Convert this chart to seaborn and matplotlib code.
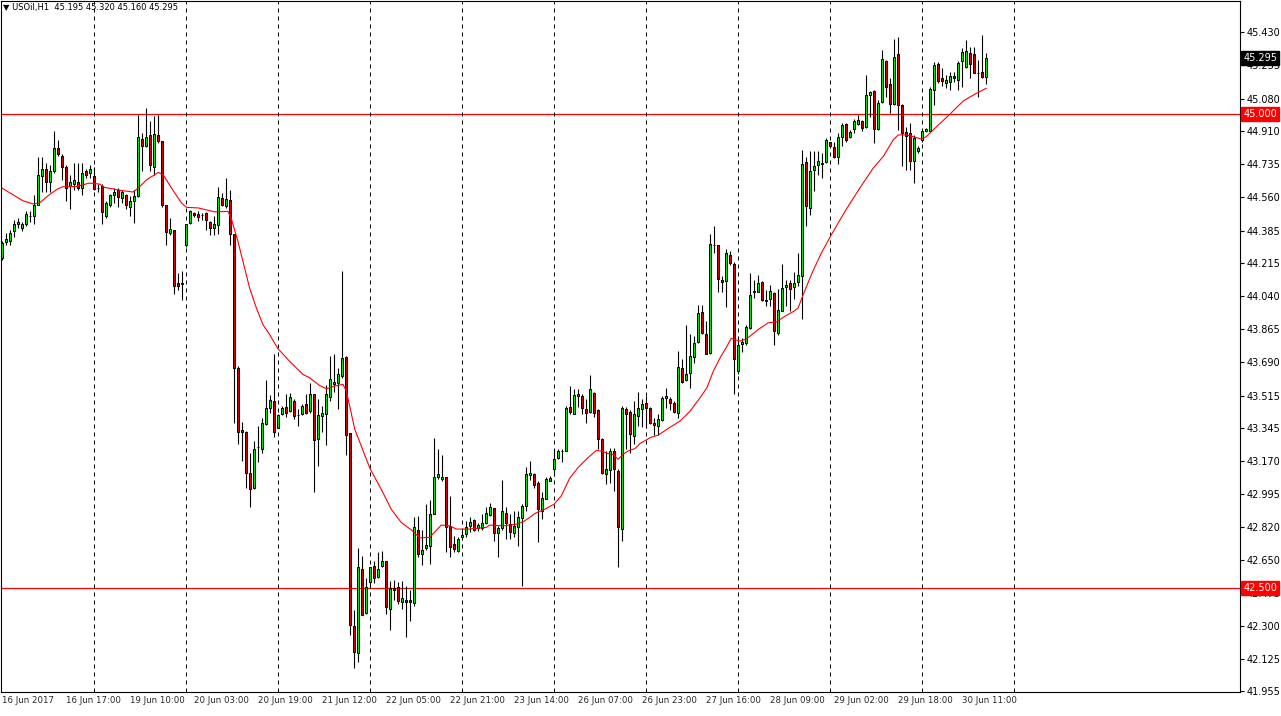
# ==========================================================
# USOil H1 candlestick chart (MT4 style) - seaborn / matplotlib
# ==========================================================
import numpy as np
import pandas as pd
import matplotlib
matplotlib.use("Agg")
import matplotlib.pyplot as plt
import matplotlib.transforms as mtransforms
import seaborn as sns

# ==========================================================
# Data (one value per hourly bar)
# ==========================================================
opens = [
    44.24, 44.325, 44.33, 44.38, 44.42, 44.40, 44.42, 44.46, 44.46, 44.52,
    44.67, 44.71, 44.64, 44.70, 44.82, 44.78, 44.72, 44.62, 44.63, 44.64,
    44.61, 44.70, 44.69, 44.67, 44.61, 44.62, 44.46, 44.52, 44.57, 44.60,
    44.555, 44.57, 44.51, 44.54, 44.565, 44.87, 44.83, 44.89, 44.72, 44.89,
    44.855, 44.52, 44.37, 44.39, 44.11, 44.105, 44.307, 44.425, 44.477, 44.472,
    44.468, 44.477, 44.43, 44.398, 44.414, 44.556, 44.512, 44.547, 44.367, 43.662,
    43.335, 43.325, 43.104, 43.025, 43.244, 43.235, 43.363, 43.451, 43.486, 43.346,
    43.42, 43.456, 43.433, 43.486, 43.412, 43.42, 43.468, 43.433, 43.525, 43.284,
    43.407, 43.42, 43.509, 43.574, 43.583, 43.617, 43.72, 43.316, 42.299, 42.156,
    42.60, 42.367, 42.53, 42.614, 42.556, 42.614, 42.641, 42.39, 42.498, 42.504,
    42.428, 42.438, 42.437, 42.42, 42.807, 42.679, 42.709, 42.72, 42.893, 43.086,
    43.077, 43.088, 42.828, 42.732, 42.696, 42.767, 42.784, 42.828, 42.858, 42.816,
    42.816, 42.842, 42.886, 42.92, 42.788, 42.816, 42.898, 42.837, 42.791, 42.82,
    42.867, 42.93, 43.096, 43.10, 43.056, 42.907, 42.972, 43.065, 43.13, 43.188,
    43.223, 43.223, 43.456, 43.42, 43.512, 43.51, 43.446, 43.43, 43.53, 43.437,
    43.284, 43.10, 43.123, 43.223, 43.117, 42.81, 43.446, 43.43, 43.30, 43.407,
    43.442, 43.474, 43.447, 43.368, 43.354, 43.384, 43.504, 43.495, 43.477, 43.425,
    43.658, 43.596, 43.635, 43.719, 43.796, 43.956, 43.837, 43.737, 44.307, 44.307,
    44.126, 44.121, 44.254, 44.209, 43.644, 43.788, 43.79, 43.872, 44.06, 44.062,
    44.114, 44.016, 44.025, 44.056, 43.846, 43.963, 44.086, 44.109, 44.088, 44.114,
    44.144, 44.746, 44.504, 44.702, 44.728, 44.738, 44.746, 44.851, 44.825, 44.775,
    44.877, 44.946, 44.877, 44.92, 44.946, 44.96, 44.933, 45.10, 45.121, 44.92,
    45.062, 45.279, 45.156, 45.051, 45.314, 45.047, 44.904, 44.898, 44.749, 44.805,
    44.863, 44.911, 44.911, 45.126, 45.262, 45.191, 45.162, 45.17, 45.20, 45.179,
    45.279, 45.249, 45.319, 45.314, 45.214, 45.219, 45.195,
]
highs = [
    44.33, 44.37, 44.39, 44.44, 44.45, 44.43, 44.49, 44.49, 44.57, 44.77,
    44.77, 44.74, 44.73, 44.91, 44.86, 44.79, 44.73, 44.68, 44.74, 44.74,
    44.74, 44.71, 44.73, 44.72, 44.63, 44.63, 44.54, 44.58, 44.61, 44.61,
    44.60, 44.58, 44.565, 44.60, 44.995, 44.90, 45.03, 44.96, 44.99, 44.995,
    44.855, 44.52, 44.45, 44.39, 44.16, 44.174, 44.42, 44.495, 44.48, 44.49,
    44.477, 44.48, 44.433, 44.46, 44.617, 44.583, 44.662, 44.60, 44.367, 43.67,
    43.375, 43.328, 43.214, 43.275, 43.354, 43.398, 43.595, 43.517, 43.735, 43.416,
    43.46, 43.525, 43.53, 43.495, 43.442, 43.472, 43.521, 43.583, 43.525, 43.495,
    43.46, 43.568, 43.723, 43.735, 43.662, 44.174, 43.723, 43.32, 42.384, 42.709,
    42.667, 42.551, 42.609, 42.644, 42.691, 42.693, 42.644, 42.539, 42.544, 42.53,
    42.539, 42.512, 42.491, 42.872, 42.88, 42.805, 42.942, 42.963, 43.293, 43.232,
    43.20, 43.088, 42.986, 42.775, 42.767, 42.802, 42.854, 42.872, 42.863, 42.841,
    42.893, 42.925, 42.951, 42.92, 42.828, 43.069, 42.925, 42.89, 42.904, 42.904,
    42.942, 43.137, 43.17, 43.109, 43.065, 43.004, 43.086, 43.091, 43.232, 43.232,
    43.232, 43.46, 43.565, 43.551, 43.547, 43.521, 43.495, 43.623, 43.535, 43.442,
    43.293, 43.223, 43.241, 43.241, 43.126, 43.46, 43.454, 43.437, 43.486, 43.535,
    43.495, 43.512, 43.454, 43.398, 43.416, 43.512, 43.556, 43.507, 43.486, 43.749,
    43.709, 43.889, 43.837, 43.828, 43.99, 43.99, 43.907, 44.368, 44.407, 44.311,
    44.144, 44.288, 44.279, 44.217, 43.821, 43.82, 43.889, 44.162, 44.126, 44.153,
    44.117, 44.074, 44.10, 44.06, 44.077, 44.209, 44.126, 44.126, 44.167, 44.267,
    44.811, 44.775, 44.802, 44.802, 44.802, 44.793, 44.872, 44.854, 44.854, 44.898,
    44.951, 44.951, 44.916, 44.974, 44.995, 44.968, 45.205, 45.123, 45.126, 45.074,
    45.337, 45.284, 45.188, 45.395, 45.407, 45.051, 44.933, 44.951, 44.889, 44.828,
    44.911, 44.925, 45.144, 45.275, 45.275, 45.24, 45.205, 45.223, 45.223, 45.279,
    45.346, 45.389, 45.354, 45.354, 45.284, 45.416, 45.320,
]
lows = [
    44.23, 44.31, 44.31, 44.35, 44.40, 44.38, 44.41, 44.43, 44.42, 44.52,
    44.59, 44.59, 44.59, 44.69, 44.78, 44.65, 44.54, 44.50, 44.60, 44.60,
    44.57, 44.66, 44.66, 44.60, 44.59, 44.42, 44.45, 44.51, 44.53, 44.51,
    44.53, 44.50, 44.46, 44.425, 44.56, 44.70, 44.825, 44.70, 44.68, 44.846,
    44.51, 44.31, 44.36, 44.05, 44.07, 44.02, 44.30, 44.42, 44.456, 44.433,
    44.442, 44.389, 44.363, 44.363, 44.368, 44.512, 44.504, 44.311, 43.372, 43.262,
    43.17, 43.026, 42.925, 43.021, 43.162, 43.214, 43.36, 43.425, 43.296, 43.346,
    43.412, 43.404, 43.43, 43.393, 43.354, 43.412, 43.42, 43.425, 43.007, 43.144,
    43.323, 43.254, 43.486, 43.533, 43.442, 43.609, 43.20, 42.254, 42.077, 42.112,
    42.358, 42.363, 42.504, 42.526, 42.551, 42.609, 42.363, 42.28, 42.439, 42.416,
    42.39, 42.244, 42.328, 42.407, 42.665, 42.623, 42.70, 42.626, 42.89, 43.074,
    43.062, 42.688, 42.665, 42.688, 42.688, 42.758, 42.767, 42.793, 42.802, 42.802,
    42.805, 42.837, 42.881, 42.749, 42.665, 42.805, 42.758, 42.758, 42.767, 42.723,
    42.512, 42.905, 43.068, 43.03, 42.741, 42.863, 42.968, 43.062, 43.091, 43.179,
    43.167, 43.22, 43.42, 43.416, 43.454, 43.42, 43.372, 43.425, 43.402, 43.232,
    43.10, 43.047, 43.056, 43.012, 42.609, 42.749, 43.235, 43.214, 43.258, 43.354,
    43.349, 43.346, 43.363, 43.307, 43.307, 43.38, 43.451, 43.437, 43.425, 43.395,
    43.583, 43.591, 43.553, 43.688, 43.793, 43.84, 43.732, 43.732, 44.267, 44.062,
    44.062, 43.981, 44.205, 43.521, 43.63, 43.746, 43.784, 43.868, 44.03, 44.06,
    44.012, 43.986, 43.986, 43.781, 43.833, 43.96, 43.986, 43.96, 44.026, 44.091,
    43.916, 44.407, 44.468, 44.595, 44.679, 44.662, 44.74, 44.823, 44.767, 44.735,
    44.828, 44.854, 44.872, 44.898, 44.942, 44.91, 44.928, 44.986, 44.846, 44.916,
    45.056, 45.091, 45.004, 45.047, 44.916, 44.723, 44.705, 44.705, 44.635, 44.793,
    44.854, 44.904, 44.907, 45.047, 45.162, 45.149, 45.135, 45.126, 45.167, 45.126,
    45.144, 45.24, 45.188, 45.214, 45.091, 45.188, 45.160,
]
closes = [
    44.32, 44.34, 44.37, 44.42, 44.43, 44.42, 44.47, 44.46, 44.52, 44.68,
    44.71, 44.64, 44.70, 44.82, 44.79, 44.72, 44.61, 44.64, 44.65, 44.61,
    44.69, 44.68, 44.71, 44.605, 44.61, 44.48, 44.53, 44.57, 44.59, 44.56,
    44.59, 44.52, 44.54, 44.565, 44.88, 44.83, 44.88, 44.73, 44.895, 44.855,
    44.52, 44.375, 44.395, 44.09, 44.09, 44.105, 44.42, 44.49, 44.465, 44.454,
    44.468, 44.442, 44.40, 44.42, 44.56, 44.517, 44.551, 44.367, 43.662, 43.325,
    43.323, 43.104, 43.021, 43.235, 43.244, 43.372, 43.451, 43.493, 43.325, 43.412,
    43.451, 43.425, 43.509, 43.407, 43.412, 43.46, 43.425, 43.521, 43.279, 43.41,
    43.421, 43.521, 43.60, 43.588, 43.626, 43.714, 43.307, 42.307, 42.165, 42.609,
    42.36, 42.504, 42.609, 42.551, 42.60, 42.644, 42.402, 42.498, 42.491, 42.433,
    42.446, 42.428, 42.425, 42.82, 42.679, 42.70, 42.728, 42.893, 43.088, 43.10,
    43.088, 42.823, 42.717, 42.705, 42.758, 42.779, 42.823, 42.846, 42.805, 42.832,
    42.842, 42.898, 42.925, 42.788, 42.816, 42.904, 42.842, 42.798, 42.828, 42.872,
    42.933, 43.10, 43.109, 43.044, 42.916, 42.977, 43.074, 43.078, 43.183, 43.223,
    43.223, 43.451, 43.43, 43.516, 43.521, 43.451, 43.425, 43.547, 43.423, 43.288,
    43.104, 43.126, 43.223, 43.126, 42.82, 43.451, 43.416, 43.314, 43.416, 43.447,
    43.468, 43.451, 43.372, 43.36, 43.389, 43.50, 43.512, 43.477, 43.43, 43.667,
    43.588, 43.626, 43.723, 43.79, 43.951, 43.846, 43.735, 44.314, 44.307, 44.13,
    44.112, 44.267, 44.214, 43.705, 43.784, 43.796, 43.877, 44.044, 44.068, 44.109,
    44.017, 44.016, 44.065, 43.854, 43.967, 44.083, 44.10, 44.079, 44.109, 44.149,
    44.735, 44.512, 44.70, 44.726, 44.753, 44.738, 44.863, 44.828, 44.772, 44.88,
    44.942, 44.86, 44.904, 44.96, 44.968, 44.925, 45.10, 45.114, 44.921, 45.056,
    45.29, 45.144, 45.051, 45.302, 45.047, 44.898, 44.884, 44.754, 44.872, 44.819,
    44.911, 44.92, 45.132, 45.258, 45.175, 45.174, 45.179, 45.20, 45.188, 45.267,
    45.328, 45.333, 45.262, 45.217, 45.214, 45.196, 45.295,
]

# moving average line, read at a set of bar positions
ma_bars = [
    0, 2.75, 5.25, 7.75, 9.4, 11.9, 14, 15.25, 18.6, 21.9, 24.4, 25.75, 29.9,
    32.8, 34.1, 36.2, 39.1, 40.3, 42.4, 44.9, 46.2, 49.1, 53.25, 56.5, 57.3,
    59, 60.25, 61.9, 63.6, 65.25, 66.9, 69, 71.9, 75.25, 76.9, 79.4, 81.1,
    83.2, 85.25, 86.1, 88.2, 92, 94.8, 97.3, 99.8, 102.3, 104.4, 106.9, 109.8,
    111.9, 113.6, 116.9, 121.1, 121.9, 125.25, 128.6, 130.25, 131.9, 133.2,
    135.7, 138, 139.8, 141.9, 144, 146.5, 148.6, 150.25, 151.5, 152.75, 154,
    155.25, 156.5, 158.2, 159.5, 162, 164.1, 166.2, 169.5, 172, 174.5, 176.2,
    177.8, 179.5, 181.2, 182.25, 184.5, 186.1, 189, 191.5, 193.6, 195.7, 198.2,
    199, 200.25, 202.3, 204.8, 207.3, 210.7, 214.4, 217.75, 220.25, 222.75,
    224, 226, 227.75, 229.8, 231, 233.6, 236.9, 240.25, 243.6, 246,
]
ma_vals = [
    44.609, 44.574, 44.542, 44.525, 44.53, 44.574, 44.605, 44.616, 44.617,
    44.635, 44.63, 44.612, 44.596, 44.588, 44.609, 44.653, 44.691, 44.679,
    44.609, 44.53, 44.507, 44.504, 44.483, 44.486, 44.451, 44.328, 44.223,
    44.083, 43.977, 43.889, 43.837, 43.762, 43.696, 43.626, 43.609, 43.568,
    43.551, 43.565, 43.574, 43.538, 43.337, 43.13, 43.021, 42.916, 42.846,
    42.807, 42.765, 42.767, 42.832, 42.828, 42.811, 42.811, 42.82, 42.832,
    42.828, 42.837, 42.849, 42.872, 42.893, 42.916, 42.942, 42.986, 43.079,
    43.135, 43.188, 43.226, 43.22, 43.209, 43.205, 43.179, 43.205, 43.223,
    43.235, 43.262, 43.293, 43.307, 43.337, 43.381, 43.433, 43.504, 43.556,
    43.644, 43.714, 43.775, 43.816, 43.802, 43.814, 43.863, 43.898, 43.904,
    43.933, 43.963, 43.977, 44.047, 44.153, 44.267, 44.363, 44.486, 44.609,
    44.714, 44.775, 44.863, 44.889, 44.889, 44.88, 44.867, 44.88, 44.933,
    44.998, 45.068, 45.109, 45.135,
]

price_ticks = [45.430, 45.255, 45.080, 44.910, 44.735, 44.560, 44.385, 44.215,
               44.040, 43.865, 43.690, 43.515, 43.345, 43.170, 42.995, 42.820,
               42.650, 42.475, 42.300, 42.125, 41.955]
time_labels = ["16 Jun 2017", "16 Jun 17:00", "19 Jun 10:00", "20 Jun 03:00",
               "20 Jun 19:00", "21 Jun 12:00", "22 Jun 05:00", "22 Jun 21:00",
               "23 Jun 14:00", "26 Jun 07:00", "26 Jun 23:00", "27 Jun 16:00",
               "28 Jun 09:00", "29 Jun 02:00", "29 Jun 18:00", "30 Jun 11:00"]
label_bars = [16 * i for i in range(len(time_labels))]
day_bars = [23 * i for i in range(1, 12)]
levels = [45.000, 42.500]

df = pd.DataFrame({"open": opens, "high": highs, "low": lows, "close": closes})
df["bar"] = np.arange(len(df))

# ==========================================================
# Style
# ==========================================================
sns.set_style("white")
plt.rcParams["font.family"] = ["DejaVu Sans"]

fig = plt.figure(figsize=(12.81, 7.16), dpi=100)
ax = fig.add_axes([0.5 / 1281, 24 / 716, 1239.5 / 1281, 691 / 716])

# ==========================================================
# Candles
# ==========================================================
body_low = df[["open", "close"]].min(axis=1)
body_h = (df["close"] - df["open"]).abs().clip(lower=0.0008)
body_col = np.where(df["close"] >= df["open"], "#00e600", "#d40000")

ax.vlines(df["bar"], df["low"], df["high"], color="black", linewidth=0.8, zorder=2)
ax.bar(df["bar"], body_h, bottom=body_low, width=0.55, color=body_col,
       edgecolor="black", linewidth=0.7, zorder=3)

# moving average
sns.lineplot(x=ma_bars, y=ma_vals, ax=ax, color="red", linewidth=0.8,
             sort=False, legend=False, zorder=4)

# horizontal levels and day separators
for lv in levels:
    ax.axhline(lv, color="red", linewidth=0.9, zorder=1)
for d in day_bars:
    ax.axvline(d, color="black", linewidth=0.72, linestyle=(0, (4, 4)), zorder=1)

# ==========================================================
# Axes
# ==========================================================
ax.set_xlim(-0.33, 309.4)
ax.set_ylim(41.952, 45.595)
ax.set_xlabel("")
ax.set_ylabel("")

ax.yaxis.tick_right()
ax.set_yticks(price_ticks)
ax.set_yticklabels([f"{v:.3f}" for v in price_ticks])
ax.tick_params(axis="y", direction="out", length=3, width=0.8, pad=1.5,
               labelsize=7, colors="black")

ax.set_xticks(label_bars)
ax.set_xticklabels(time_labels)
for t in ax.get_xticklabels():
    t.set_ha("left")
ax.set_xticks(day_bars, minor=True)
ax.tick_params(axis="x", which="major", length=0, pad=3, labelsize=6.2)
ax.tick_params(axis="x", which="minor", direction="out", length=3, width=0.8)

for s in ax.spines.values():
    s.set_color("black")
    s.set_linewidth(0.8)

# price boxes on the right scale
trans = mtransforms.blended_transform_factory(ax.transAxes, ax.transData)
for lv in levels:
    ax.text(1.0025, lv, f"{lv:.3f}", transform=trans, ha="left", va="center",
            fontsize=7, color="white", zorder=6, clip_on=False,
            bbox=dict(boxstyle="square,pad=0.2", fc="red", ec="red"))
ax.text(1.0025, closes[-1], f"{closes[-1]:.3f}", transform=trans, ha="left",
        va="center", fontsize=7, color="white", zorder=6, clip_on=False,
        bbox=dict(boxstyle="square,pad=0.2", fc="black", ec="black"))

# title line
ax.text(0.002, 0.997, "\u25bc USOil,H1  %.3f %.3f %.3f %.3f" % (opens[-1], highs[-1], lows[-1], closes[-1]),
        transform=ax.transAxes, ha="left", va="top", fontsize=6, color="black", zorder=6)

fig.savefig("out.png", dpi=100)
